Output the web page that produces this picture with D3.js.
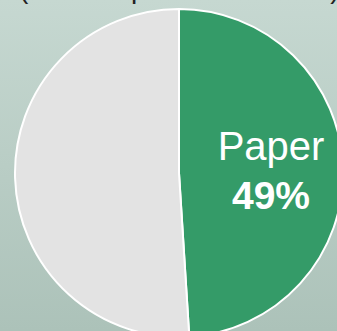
<!DOCTYPE html>
<html>
<head>
<meta charset="utf-8">
<script src="https://cdn.jsdelivr.net/npm/d3@7"></script>
<style>
  html, body { margin: 0; padding: 0; }
  body { width: 337px; height: 331px; overflow: hidden; }
  svg { display: block; }
</style>
</head>
<body>
<div id="chart"></div>
<script>
// Pie data
const categories = ['Paper', 'Other'];
const values = [49, 51];
const sliceColors = ['#349b68', '#e3e3e3'];
const labelShown = [true, false];
const titleText = '(% of output in UK stores)';

const width = 337, height = 331;
const cx = 179, cy = 173, radius = 164;

const svg = d3.select('#chart').append('svg')
  .attr('width', width)
  .attr('height', height);

// background gradient
const defs = svg.append('defs');
const grad = defs.append('linearGradient')
  .attr('id', 'bg')
  .attr('x1', 0).attr('y1', 0).attr('x2', 0).attr('y2', 1);
grad.append('stop').attr('offset', '0%').attr('stop-color', '#c6d8d1');
grad.append('stop').attr('offset', '100%').attr('stop-color', '#acc2b9');
svg.append('rect')
  .attr('width', width).attr('height', height)
  .attr('fill', 'url(#bg)');

// title sits mostly above the visible area, only descenders show
svg.append('text')
  .attr('x', 19)
  .attr('y', -2)
  .attr('font-family', 'Liberation Sans, Arial, sans-serif')
  .attr('font-size', 28)
  .attr('fill', '#222')
  .text(titleText);

const pie = d3.pie().sort(null).value(d => d.value);
const arc = d3.arc().innerRadius(0).outerRadius(radius);

const data = categories.map((c, i) => ({ name: c, value: values[i], color: sliceColors[i], show: labelShown[i] }));
const arcs = pie(data);

const g = svg.append('g').attr('transform', `translate(${cx},${cy})`);

g.selectAll('path')
  .data(arcs)
  .join('path')
  .attr('d', arc)
  .attr('fill', d => d.data.color)
  .attr('stroke', '#fff')
  .attr('stroke-width', 2);

// labels
const labelX = 271 - cx;
arcs.filter(d => d.data.show).forEach(d => {
  g.append('text')
    .attr('x', labelX)
    .attr('y', 160 - cy)
    .attr('text-anchor', 'middle')
    .attr('font-family', 'Liberation Sans, Arial, sans-serif')
    .attr('font-size', 40)
    .attr('fill', '#fff')
    .text(d.data.name);
  g.append('text')
    .attr('x', labelX)
    .attr('y', 209 - cy)
    .attr('text-anchor', 'middle')
    .attr('font-family', 'Liberation Sans, Arial, sans-serif')
    .attr('font-size', 39)
    .attr('font-weight', 'bold')
    .attr('fill', '#fff')
    .text(Math.round(d.data.value) + '%');
});
</script>
</body>
</html>
